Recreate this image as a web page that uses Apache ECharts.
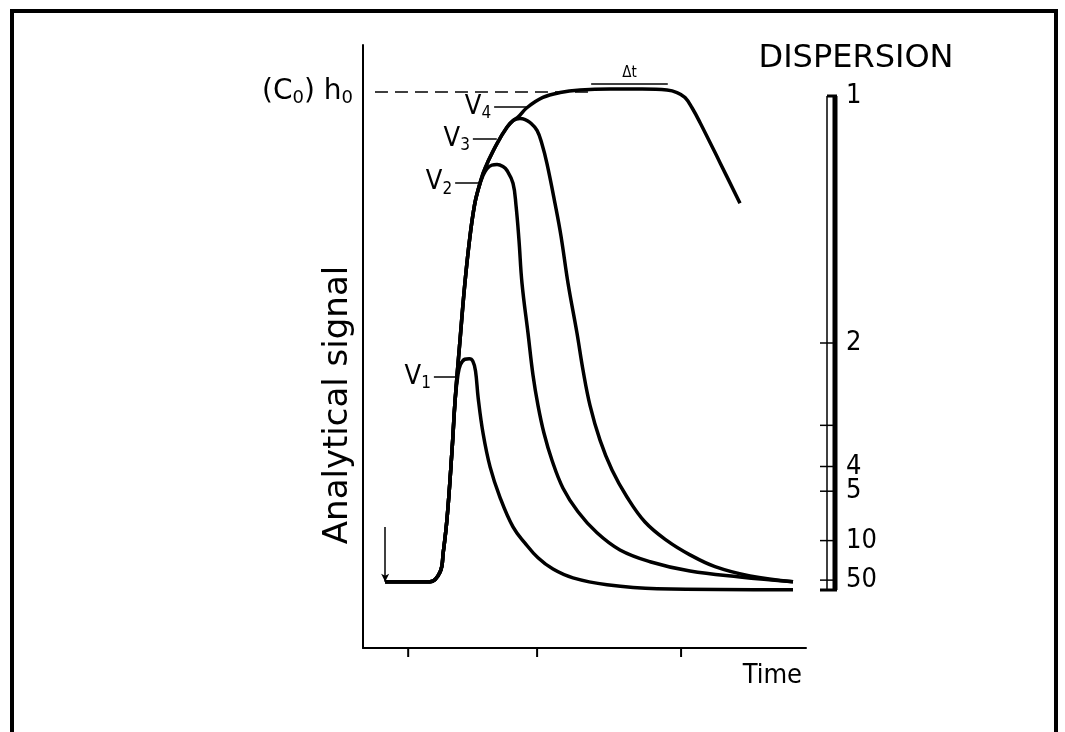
<!DOCTYPE html>
<html>
<head>
<meta charset="utf-8">
<title>Analytical signal vs time - dispersion</title>
<script src="https://cdn.jsdelivr.net/npm/echarts@6.0.0/dist/echarts.min.js"></script>
<style>
  html, body { margin: 0; padding: 0; background: #fff; }
  #main { width: 1065px; height: 732px; }
</style>
</head>
<body>
<div id="main"></div>
<script>
// time axis runs 0..100, signal 0 = baseline, 1 = steady state h0
var riseFront = [[5, 0], [15.1, 0], [17.4, 0.02], [18.1, 0.059], [19.0, 0.132], [20.1, 0.269], [20.8, 0.371]];
var upperFront = [[21.9, 0.493], [23.0, 0.609], [24.15, 0.705], [25.2, 0.77], [26.0, 0.80]];
var topFront = [[27.1, 0.833], [28.2, 0.857], [30.25, 0.894], [32.5, 0.927], [33.9, 0.941]];

var v1Rest = [[21.4, 0.42], [22.0, 0.443], [23.0, 0.454], [24.0, 0.455], [24.8, 0.45], [25.4, 0.43],
    [26.0, 0.375], [27.1, 0.303], [28.7, 0.234], [30.9, 0.173], [33.86, 0.112], [36.57, 0.079],
    [39.5, 0.049], [42.89, 0.026], [47.4, 0.008], [55.08, -0.006], [66.37, -0.014], [97.07, -0.016]];
var v2Rest = [[27.1, 0.829], [28.0, 0.843], [29.1, 0.85], [30.25, 0.851], [31.6, 0.847], [32.51, 0.839],
    [33.86, 0.813], [34.54, 0.768], [35.21, 0.697], [35.89, 0.609], [37.25, 0.507], [38.37, 0.422],
    [39.5, 0.36], [40.86, 0.303], [42.66, 0.248], [45.15, 0.191], [48.53, 0.143], [52.82, 0.1],
    [58.01, 0.065], [64.79, 0.041], [73.81, 0.022], [85.1, 0.01], [97.07, 0.0]];
var v3Rest = [[35.44, 0.945], [36.6, 0.943], [37.7, 0.937], [39.28, 0.921], [40.4, 0.893], [41.53, 0.853],
    [43.34, 0.772], [44.7, 0.705], [46.28, 0.609], [48.31, 0.507], [49.66, 0.432], [51.24, 0.36],
    [53.5, 0.289], [56.21, 0.228], [59.59, 0.173], [63.66, 0.122], [68.62, 0.084], [73.81, 0.055],
    [79.46, 0.031], [87.36, 0.012], [97.07, 0.0]];
var v4Rest = [[35.0, 0.948], [37.0, 0.967], [40.6, 0.988], [44.5, 0.998], [49.0, 1.003], [55.8, 1.005],
    [63.0, 1.005], [68.62, 1.003], [70.88, 0.998], [72.69, 0.988], [74.27, 0.967], [76.07, 0.937],
    [80.59, 0.855], [85.1, 0.772]];

// label leaders: [name, subscript, tStart, tEnd, signal]
var leaders = [['V', '1', 16.0, 21.2, 0.418], ['V', '2', 20.8, 26.4, 0.815],
    ['V', '3', 24.8, 30.2, 0.904], ['V', '4', 29.6, 37.0, 0.969]];

var steadyLine = [2.7, 51.2, 1.0];        // dashed h0 line: tStart, tEnd, signal
var deltaT = [51.5, 68.8, 1.016];         // Δt bar
var injection = [5, 0.112, 0];            // injection arrow: t, from, to
var timeTicks = [10.2, 39.3, 71.8];

var dispersionLevels = [1, 2, 3, 4, 5, 10, 50];
var dispersionLabels = ['1', '2', '', '4', '5', '10', '50'];

var FONT = "'DejaVu Sans Condensed', 'DejaVu Sans', sans-serif";
var WIDE = "'DejaVu Sans', sans-serif";
var Y_MIN = -0.135, Y_MAX = 1.095;

var chart = echarts.init(document.getElementById('main'));

var lineStyle = { color: '#000', width: 3.5 };
var subRich = {
    n: { fontSize: 27, fontFamily: FONT, color: '#000', lineHeight: 30 },
    s: { fontSize: 17, fontFamily: FONT, color: '#000', lineHeight: 17, padding: [14, 0, 0, 0] }
};
var h0Rich = {
    n: { fontSize: 28, fontFamily: WIDE, color: '#000', lineHeight: 30 },
    s: { fontSize: 18, fontFamily: WIDE, color: '#000', lineHeight: 18, padding: [14, 0, 0, 0] }
};

function curve(name, pts, idx) {
    var ld = leaders[idx];
    return {
        name: name,
        type: 'line',
        data: pts,
        symbol: 'none',
        smooth: 0.4,
        lineStyle: lineStyle,
        silent: true,
        markLine: {
            silent: true,
            symbol: 'none',
            lineStyle: { color: '#000', width: 1.5, type: 'solid' },
            label: {
                show: true, position: 'start', distance: 3,
                formatter: '{n|' + ld[0] + '}{s|' + ld[1] + '}',
                rich: subRich
            },
            data: [[{ coord: [ld[2], ld[4]] }, { coord: [ld[3], ld[4]] }]]
        }
    };
}

var option = {
    backgroundColor: '#fff',
    animation: false,
    textStyle: { fontFamily: FONT, color: '#000' },
    grid: [
        { left: 363, top: 45, right: 259, bottom: 84 },
        { left: 820, top: 96, width: 20, height: 494 }
    ],
    xAxis: [
        {
            type: 'value', gridIndex: 0, min: 0, max: 100,
            axisLine: { show: true, onZero: false, lineStyle: { color: '#000', width: 2 } },
            axisTick: { show: false }, axisLabel: { show: false }, splitLine: { show: false },
            name: 'Time', nameLocation: 'end', nameGap: -4,
            nameTextStyle: { fontSize: 27, fontFamily: FONT, color: '#000', align: 'right', verticalAlign: 'top', padding: [14, 0, 0, 0] }
        },
        { type: 'value', gridIndex: 1, min: 0, max: 1, show: false }
    ],
    yAxis: [
        {
            type: 'value', gridIndex: 0, min: Y_MIN, max: Y_MAX,
            axisLine: { show: true, onZero: false, lineStyle: { color: '#000', width: 2 } },
            axisTick: { show: false }, axisLabel: { show: false }, splitLine: { show: false }
        },
        { type: 'value', gridIndex: 1, min: 0, max: 1, show: false }
    ],
    graphic: [
        {
            type: 'polyline', silent: true,
            shape: { points: [[12, 732], [12, 11], [1056, 11], [1056, 732]] },
            style: { stroke: '#000', lineWidth: 4, fill: null }
        },
        {
            type: 'text', x: 338, y: 405, rotation: Math.PI / 2, silent: true,
            style: { text: 'Analytical signal', fontSize: 34, fontFamily: WIDE, fill: '#000', align: 'center', verticalAlign: 'middle' }
        },
        {
            type: 'text', x: 856, y: 59, silent: true,
            style: { text: 'DISPERSION', fontSize: 32, fontFamily: WIDE, fill: '#000', align: 'center', verticalAlign: 'middle' }
        }
    ],
    series: [
        curve('V1', riseFront.concat(v1Rest), 0),
        curve('V2', riseFront.concat(upperFront, v2Rest), 1),
        curve('V3', riseFront.concat(upperFront, topFront, v3Rest), 2),
        curve('V4', riseFront.concat(upperFront, topFront, v4Rest), 3),
        {
            name: 'steady', type: 'line', data: [], silent: true,
            markLine: {
                silent: true, symbol: 'none',
                lineStyle: { color: '#000', width: 1.5, type: [13, 7] },
                label: { show: true, position: 'start', distance: 22, formatter: '{n|(C}{s|0}{n|) h}{s|0}', rich: h0Rich },
                data: [[{ coord: [steadyLine[0], steadyLine[2]] }, { coord: [steadyLine[1], steadyLine[2]] }]]
            }
        },
        {
            name: 'deltaT', type: 'line', data: [], silent: true,
            markLine: {
                silent: true, symbol: 'none',
                lineStyle: { color: '#000', width: 1.5, type: 'solid' },
                label: { show: true, position: 'insideMiddleTop', distance: 3, formatter: 'Δt', fontSize: 15, fontFamily: FONT, color: '#000' },
                data: [[{ coord: [deltaT[0], deltaT[2]] }, { coord: [deltaT[1], deltaT[2]] }]]
            }
        },
        {
            name: 'injection', type: 'line', data: [], silent: true,
            markLine: {
                silent: true, symbol: ['none', 'arrow'], symbolSize: [6, 8],
                lineStyle: { color: '#000', width: 1.5, type: 'solid' },
                label: { show: false },
                data: [[{ coord: [injection[0], injection[1]] }, { coord: [injection[0], injection[2]] }]]
            }
        },
        {
            name: 'timeTicks', type: 'custom', xAxisIndex: 0, yAxisIndex: 0, silent: true,
            data: timeTicks.map(function (t) { return [t, Y_MIN]; }),
            renderItem: function (params, api) {
                var p = api.coord([api.value(0), api.value(1)]);
                return {
                    type: 'line',
                    shape: { x1: p[0], y1: p[1], x2: p[0], y2: p[1] + 9 },
                    style: { stroke: '#000', lineWidth: 2 }
                };
            }
        },
        {
            name: 'dispersionBar', type: 'custom', xAxisIndex: 1, yAxisIndex: 1, silent: true,
            data: [[0, 1]],
            renderItem: function (params, api) {
                var top = api.coord([0, 1])[1], bot = api.coord([0, 0])[1];
                var xLeft = api.coord([0, 0])[0];
                var xThin = api.coord([0.35, 0])[0];
                var xThick = api.coord([0.75, 0])[0];
                return {
                    type: 'group', children: [
                        { type: 'line', shape: { x1: xThin, y1: top, x2: xThin, y2: bot }, style: { stroke: '#000', lineWidth: 1.5 } },
                        { type: 'line', shape: { x1: xThick, y1: top, x2: xThick, y2: bot }, style: { stroke: '#000', lineWidth: 5 } },
                        { type: 'line', shape: { x1: xThin, y1: top, x2: xThick + 2, y2: top }, style: { stroke: '#000', lineWidth: 3 } },
                        { type: 'line', shape: { x1: xLeft, y1: bot, x2: xThick + 2, y2: bot }, style: { stroke: '#000', lineWidth: 3 } }
                    ]
                };
            }
        },
        {
            name: 'dispersionTicks', type: 'custom', xAxisIndex: 1, yAxisIndex: 1, silent: true,
            data: dispersionLevels.map(function (d) { return [1, 1 / d]; }),
            renderItem: function (params, api) {
                var i = params.dataIndex;
                var y = api.coord([0, api.value(1)])[1];
                var xLeft = api.coord([0, 0])[0];
                var xThick = api.coord([0.75, 0])[0];
                var xRight = api.coord([1, 0])[0];
                var kids = [{
                    type: 'text',
                    style: { text: dispersionLabels[i], x: xRight + 6, y: y, fontSize: 27, fontFamily: FONT, fill: '#000', align: 'left', verticalAlign: 'middle' }
                }];
                if (dispersionLevels[i] !== 1) {
                    kids.push({ type: 'line', shape: { x1: xLeft, y1: y, x2: xThick, y2: y }, style: { stroke: '#000', lineWidth: 1.5 } });
                }
                return { type: 'group', children: kids };
            }
        }
    ]
};

chart.setOption(option);
</script>
</body>
</html>
